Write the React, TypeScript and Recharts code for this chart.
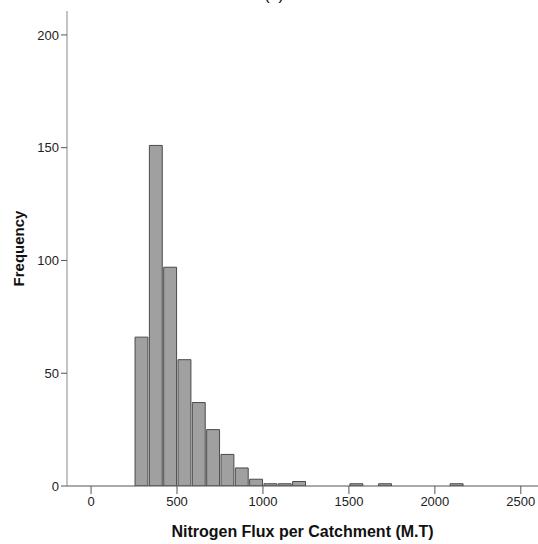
import React from "react";
import { ComposedChart, Bar, XAxis, YAxis, Label } from "recharts";

const binStarts = [250, 333.33, 416.67, 500, 583.33, 666.67, 750, 833.33, 916.67, 1000, 1083.33, 1166.67, 1500, 1666.67, 2083.33];
const counts = [66, 151, 97, 56, 37, 25, 14, 8, 3, 1, 1, 2, 1, 1, 1];
const binWidth = 83.33;
const xTicks = [0, 500, 1000, 1500, 2000, 2500];
const yTicks = [0, 50, 100, 150, 200];
const title = "(a)";
const xTitle = "Nitrogen Flux per Catchment (M.T)";
const yTitle = "Frequency";

const data = binStarts.map((s, i) => ({ x: s + binWidth / 2, count: counts[i] }));

const W = 538;
const H = 544;
const left = 67;
const top = 11;
const xDomain: [number, number] = [-140, 2600];
const barPx = ((W - left) * binWidth) / (xDomain[1] - xDomain[0]);

const font = "'Liberation Sans', Arial, sans-serif";

export default function App() {
  return (
    <div style={{ position: "absolute", left: 0, top: 0, width: W, height: H, background: "#fff" }}>
      <ComposedChart
        width={W}
        height={H}
        data={data}
        margin={{ top, right: 0, bottom: 0, left: 0 }}
        style={{ fontFamily: font }}
      >
        <text x={274} y={0} textAnchor="middle" fontSize={16} fontFamily={font} fill="#000">
          {title}
        </text>
        <XAxis
          xAxisId="top"
          orientation="top"
          type="number"
          dataKey="x"
          domain={xDomain}
          height={0}
          tick={false}
          tickLine={false}
          axisLine={{ stroke: "#888", strokeWidth: 1 }}
        />
        <XAxis
          type="number"
          dataKey="x"
          domain={xDomain}
          ticks={xTicks}
          allowDataOverflow
          height={58}
          tickSize={8}
          tickMargin={3}
          tick={{ fontSize: 13, fill: "#222", fontFamily: font }}
          tickLine={{ stroke: "#555" }}
          axisLine={{ stroke: "#555" }}
        >
          <Label
            value={xTitle}
            position="insideBottom"
            offset={7}
            style={{ fontSize: 16, fontWeight: "bold", fill: "#111", fontFamily: font }}
          />
        </XAxis>
        <YAxis
          type="number"
          domain={[0, 210.6]}
          ticks={yTicks}
          allowDataOverflow
          width={left}
          tickSize={6}
          tickMargin={2}
          tick={{ fontSize: 13, fill: "#222", fontFamily: font }}
          tickLine={{ stroke: "#555" }}
          axisLine={{ stroke: "#888" }}
        >
          <Label
            value={yTitle}
            angle={-90}
            position="insideLeft"
            offset={0}
            dx={19}
            style={{ fontSize: 15, fontWeight: "bold", fill: "#111", fontFamily: font, textAnchor: "middle" }}
          />
        </YAxis>
        <Bar
          dataKey="count"
          fill="#a0a0a0"
          stroke="#4a4a4a"
          strokeWidth={1}
          barSize={barPx}
          isAnimationActive={false}
        />
      </ComposedChart>
    </div>
  );
}
